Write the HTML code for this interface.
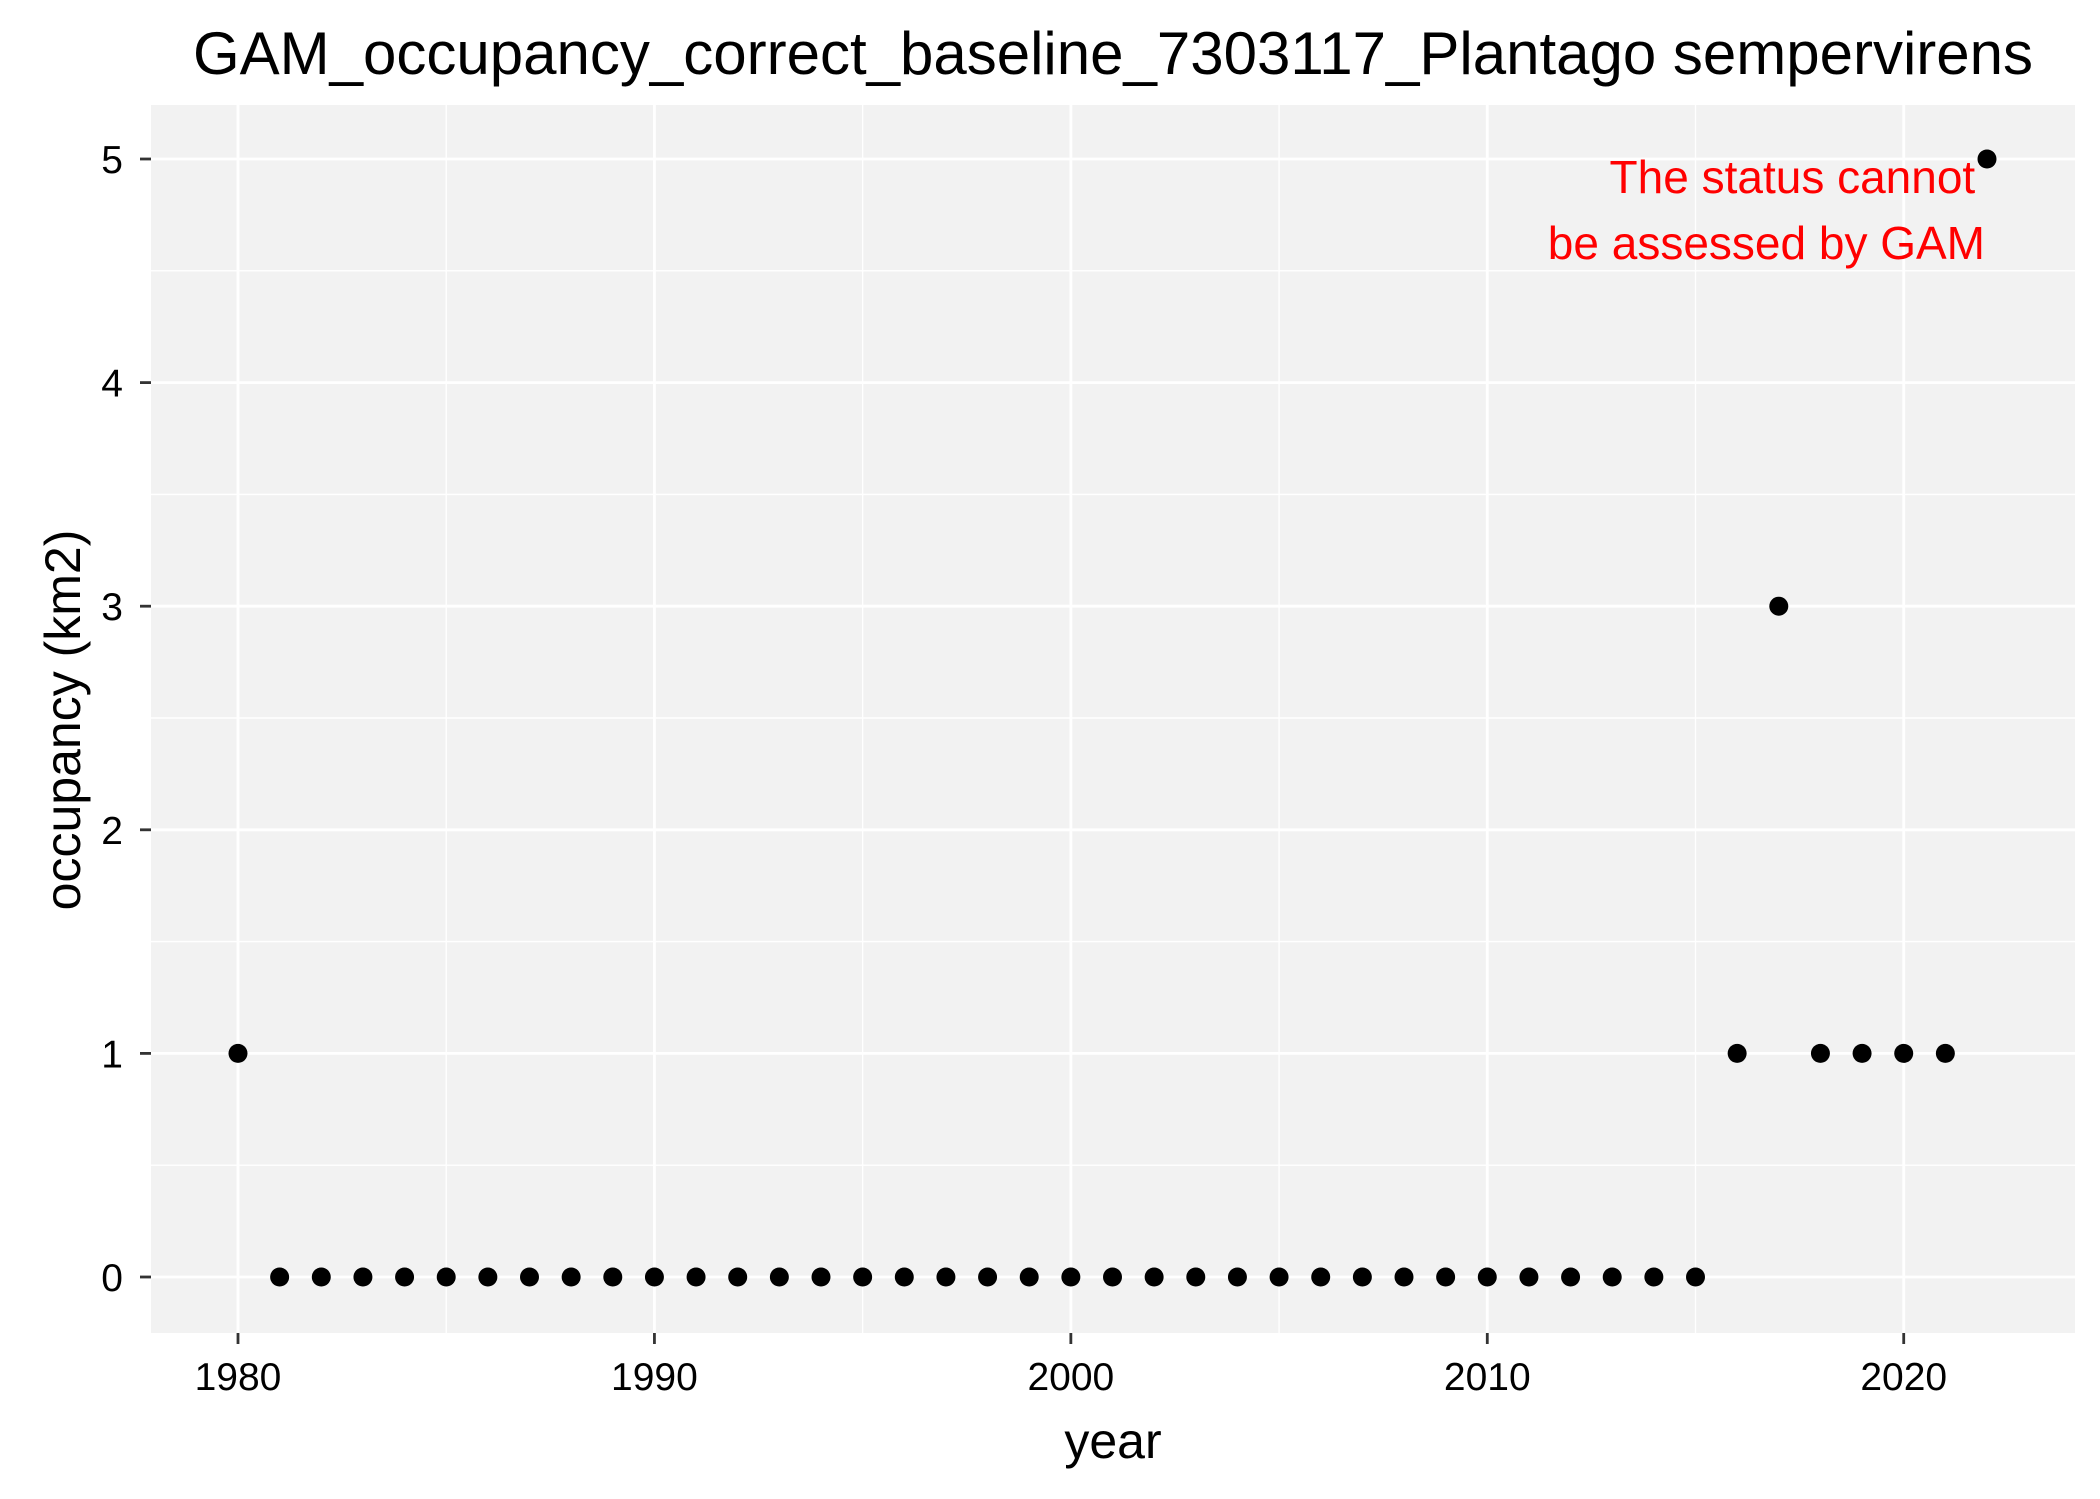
<!DOCTYPE html>
<html><head><meta charset="utf-8"><style>
html,body{margin:0;padding:0;background:#fff;}
svg{display:block;font-family:"Liberation Sans",Arial,sans-serif;}
</style></head><body>
<svg id="chart" width="2100" height="1499" viewBox="0 0 2100 1499" xmlns="http://www.w3.org/2000/svg">
<rect width="2100" height="1499" fill="#fff"/>
<text x="1113" y="74" font-size="60" text-anchor="middle" fill="#000">GAM_occupancy_correct_baseline_7303117_Plantago sempervirens</text>
<rect x="151" y="105" width="1924" height="1228" fill="#f2f2f2"/>
<g id="grid"></g>
<g id="axes"></g>
<g id="points"></g>
<text font-size="46" fill="#ff0000" text-anchor="end">
<tspan x="1988" y="193">The status cannot</tspan>
<tspan x="1985" y="259">be assessed by GAM</tspan>
</text>
<text x="1113" y="1458" font-size="50" text-anchor="middle" fill="#000">year</text>
<text transform="translate(80,720) rotate(-90)" font-size="50" text-anchor="middle" fill="#000">occupancy (km2)</text>
</svg>
<script>
const years = [1980,1981,1982,1983,1984,1985,1986,1987,1988,1989,1990,1991,1992,1993,1994,1995,1996,1997,1998,1999,2000,2001,2002,2003,2004,2005,2006,2007,2008,2009,2010,2011,2012,2013,2014,2015,2016,2017,2018,2019,2020,2021,2022];
const occupancy = [1,0,0,0,0,0,0,0,0,0,0,0,0,0,0,0,0,0,0,0,0,0,0,0,0,0,0,0,0,0,0,0,0,0,0,0,1,3,1,1,1,1,5];
const xTicks = [1980,1990,2000,2010,2020];
const xMinor = [1985,1995,2005,2015];
const yTicks = [0,1,2,3,4,5];
const yMinor = [0.5,1.5,2.5,3.5,4.5];

const NS = "http://www.w3.org/2000/svg";
const PL = 151, PR = 2075, PT = 105, PB = 1333;
function xs(v){ return 238 + (v - 1980) * (1987 - 238) / 42; }
function ys(v){ return 1277 - v * (1277 - 159) / 5; }
function mk(tag, attrs, parent){
  const e = document.createElementNS(NS, tag);
  for (const k in attrs) e.setAttribute(k, attrs[k]);
  parent.appendChild(e); return e;
}
const grid = document.getElementById('grid');
const axes = document.getElementById('axes');
const pts = document.getElementById('points');

xMinor.forEach(v => {
  const l = mk('line', {x1:xs(v), x2:xs(v), y1:PT, y2:PB, stroke:'#fff', 'stroke-width':1.4}, grid);
  
  
});
yMinor.forEach(v => {
  const l = mk('line', {x1:PL, x2:PR, y1:ys(v), y2:ys(v), stroke:'#fff', 'stroke-width':1.4}, grid);
  
  
});
xTicks.forEach(v => {
  const l = mk('line', {x1:xs(v), x2:xs(v), y1:PT, y2:PB, stroke:'#fff', 'stroke-width':2.8}, grid);
  
  
  const t = mk('line', {x1:xs(v), x2:xs(v), y1:PB, y2:PB+11, stroke:'#333', 'stroke-width':2.8}, axes);
  
  
  const tx = mk('text', {x:xs(v), y:1390, 'font-size':39, 'text-anchor':'middle', fill:'#000'}, axes);
  tx.textContent = v;
  
  
});
yTicks.forEach(v => {
  const l = mk('line', {x1:PL, x2:PR, y1:ys(v), y2:ys(v), stroke:'#fff', 'stroke-width':2.8}, grid);
  
  
  const t = mk('line', {x1:PL-11, x2:PL, y1:ys(v), y2:ys(v), stroke:'#333', 'stroke-width':2.8}, axes);
  
  
  const tx = mk('text', {x:123, y:ys(v)+14, 'font-size':39, 'text-anchor':'end', fill:'#000'}, axes);
  tx.textContent = v;
  
  
});
years.forEach((yr, i) => {
  const c = mk('circle', {cx:xs(yr), cy:ys(occupancy[i]), r:9.5, fill:'#000'}, pts);
  
  
});
</script>
</body></html>
